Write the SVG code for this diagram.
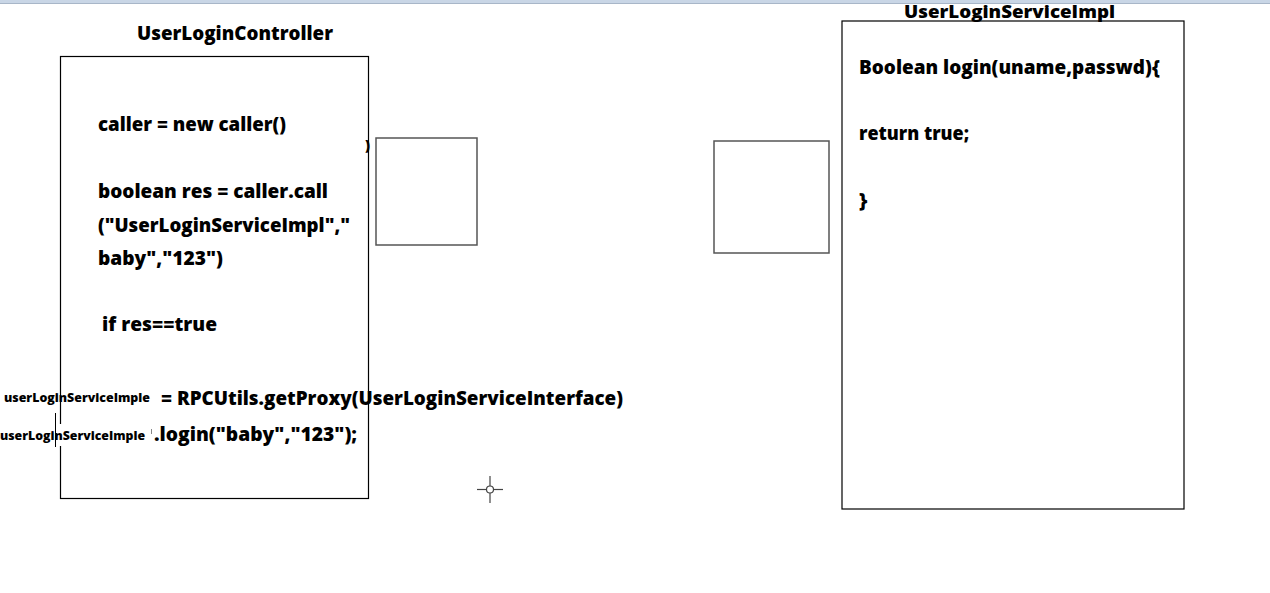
<svg xmlns="http://www.w3.org/2000/svg" width="1270" height="593" viewBox="0 0 1270 593">
<style>
.t{font-family:"Open Sans","Liberation Sans",sans-serif;font-weight:800;fill:#000;}
.big{font-size:20px;}
.sm{font-size:13px;}
.box{fill:none;stroke:#000;stroke-width:1.2;}
.sbox{fill:#fff;stroke:#555;stroke-width:1.5;}
</style>
<rect x="0" y="0" width="1270" height="593" fill="#fff"/>
<rect x="0" y="0" width="1270" height="3" fill="#c9d6e6"/>
<line x1="0" y1="3.5" x2="1270" y2="3.5" stroke="#a8b6c8" stroke-width="1"/>

<g id="controller">
<rect class="box" x="60.5" y="56.5" width="308" height="442"/>
<text class="t big" x="137" y="40" textLength="196" lengthAdjust="spacingAndGlyphs">UserLoginController</text>
<text class="t big" x="98" y="131" textLength="188" lengthAdjust="spacingAndGlyphs">caller = new caller()</text>
<text class="t big" x="98" y="198" textLength="230" lengthAdjust="spacingAndGlyphs">boolean res = caller.call</text>
<text class="t big" x="98" y="232" textLength="252" lengthAdjust="spacingAndGlyphs">("UserLoginServiceImpl","</text>
<text class="t big" x="98" y="265" textLength="125" lengthAdjust="spacingAndGlyphs">baby","123")</text>
<text class="t big" x="102" y="331" textLength="115" lengthAdjust="spacingAndGlyphs">if res==true</text>
<text class="t sm" x="4" y="402" textLength="146" lengthAdjust="spacingAndGlyphs">userLoginServiceImple</text>
<text class="t big" x="161" y="405" textLength="462" lengthAdjust="spacingAndGlyphs">= RPCUtils.getProxy(UserLoginServiceInterface)</text>
<rect x="0" y="424" width="152" height="22" fill="#fff"/>
<text class="t sm" x="0" y="440" textLength="145" lengthAdjust="spacingAndGlyphs">userLoginServiceImple</text>
<line x1="55.5" y1="413" x2="55.5" y2="447" stroke="#000" stroke-width="1"/>
<line x1="151.5" y1="429" x2="151.5" y2="434" stroke="#888" stroke-width="1"/>
<text class="t big" x="154" y="441" textLength="203" lengthAdjust="spacingAndGlyphs">.login("baby","123");</text>
<text class="t" x="365" y="150" font-size="14">)</text>
</g>

<g id="proxy1">
<rect class="sbox" x="376" y="138" width="101" height="107"/>
</g>

<g id="proxy2">
<rect class="sbox" x="714" y="141" width="115" height="112" stroke="#222"/>
</g>

<g id="serviceImpl">
<rect class="box" x="842" y="21" width="342" height="488" stroke="#333" stroke-width="1.8"/>
<text class="t" font-size="18" x="904" y="18" textLength="211" lengthAdjust="spacingAndGlyphs">UserLoginServiceImpl</text>
<text class="t big" x="859" y="74" textLength="301" lengthAdjust="spacingAndGlyphs">Boolean login(uname,passwd){</text>
<text class="t big" x="859" y="140" textLength="110" lengthAdjust="spacingAndGlyphs">return true;</text>
<text class="t big" x="859" y="207">}</text>
</g>

<g id="connectors"></g>

<g id="crosshair" stroke="#444" stroke-width="1.2" fill="none">
<line x1="477" y1="489.5" x2="503" y2="489.5"/>
<line x1="490" y1="476" x2="490" y2="503"/>
<circle cx="490" cy="489.5" r="3.5" fill="#fff"/>
</g>
</svg>
